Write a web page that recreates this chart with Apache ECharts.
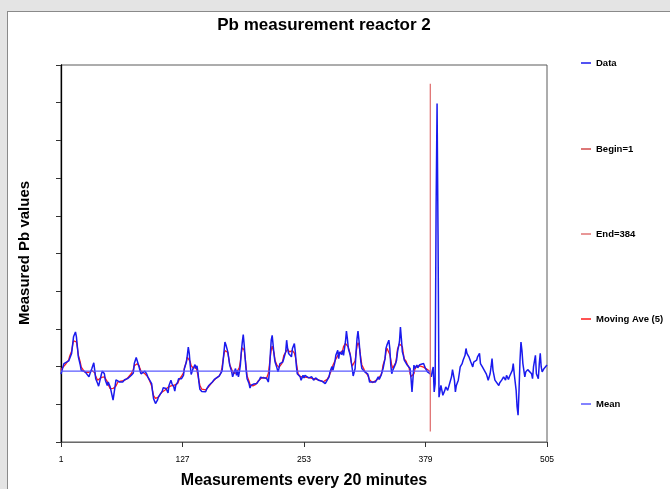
<!DOCTYPE html>
<html>
<head>
<meta charset="utf-8">
<script src="https://cdn.jsdelivr.net/npm/echarts@6/dist/echarts.min.js"></script>
<style>
  html, body { margin:0; padding:0; background:#e4e4e4; width:670px; height:489px; overflow:hidden; }
  #panel { position:absolute; left:7px; top:11px; width:663px; height:478px; background:#fff; border-top:1px solid #8a8a8a; border-left:1px solid #8a8a8a; }
  #c { position:absolute; left:0; top:0; width:670px; height:489px; }
</style>
</head>
<body>
<div id="panel"></div>
<div id="c"></div>
<script>
// ---- data ----
const chartTitle = 'Pb measurement reactor 2';
const xTitle = 'Measurements every 20 minutes';
const yTitle = 'Measured Pb values';
const xTickValues = [1, 127, 253, 379, 505];
const beginIdx = 1;
const endIdx = 384;
const meanValue = 1.88;
const markerRange = [0.28, 9.5];
const legendNames = ['Data', 'Begin=1', 'End=384', 'Moving Ave (5)', 'Mean'];

// [measurement index, Pb value]
const pbSeries = [
 [1,1.80],[2,1.81],[4,2.08],[6,2.12],[9,2.15],[10,2.19],[12,2.35],[13,2.57],[14,2.79],[16,2.92],[17,2.79],[18,2.52],[19,2.26],[21,2.04],[22,1.90],[24,1.86],[26,1.86],[28,1.90],[30,1.73],[31,1.81],[33,1.95],[35,2.10],[36,1.90],[37,1.68],[39,1.55],[40,1.48],[41,1.59],[43,1.81],[44,1.88],[46,1.81],[47,1.64],[49,1.50],[50,1.59],[52,1.46],[54,1.42],[55,1.11],[57,1.46],[58,1.65],[60,1.62],[62,1.59],[64,1.64],[65,1.59],[67,1.65],[69,1.64],[70,1.68],[72,1.73],[74,1.77],[76,1.83],[77,2.08],[79,2.24],[80,2.19],[82,1.99],[83,1.88],[84,1.81],[86,1.83],[88,1.88],[90,1.80],[91,1.73],[93,1.68],[95,1.55],[96,1.33],[97,1.15],[99,1.02],[101,1.11],[102,1.19],[104,1.27],[106,1.35],[107,1.44],[109,1.39],[110,1.42],[112,1.30],[113,1.50],[115,1.64],[116,1.55],[118,1.46],[119,1.35],[120,1.50],[122,1.59],[123,1.68],[124,1.64],
 [126,1.68],[128,1.77],[129,1.95],[131,2.12],[132,2.30],[133,2.52],[134,2.35],[135,2.04],[136,1.79],[138,1.95],[139,1.99],[140,2.05],[141,1.95],[142,2.02],[143,1.86],[144,1.59],[145,1.40],[147,1.34],[149,1.34],[151,1.33],[152,1.40],[154,1.49],[156,1.52],[158,1.59],[160,1.66],[162,1.68],[165,1.75],[167,1.79],[168,1.88],[169,2.12],[170,2.39],[171,2.65],[172,2.58],[174,2.39],[175,2.21],[176,2.04],[178,1.86],[179,1.73],[180,1.81],[182,1.95],[183,1.77],[184,1.90],[185,1.73],[186,1.86],[187,2.04],[188,2.39],[189,2.65],[190,2.85],[191,2.57],[192,2.21],[193,1.90],[194,1.68],[196,1.55],[197,1.43],[198,1.50],[200,1.47],[201,1.54],[203,1.50],[204,1.55],[205,1.59],[207,1.66],[208,1.72],[209,1.73],[211,1.70],[212,1.73],[214,1.70],[215,1.68],[216,1.59],[217,1.81],[218,2.30],[219,2.70],[220,2.83],[221,2.57],[222,2.30],[223,2.12],[225,1.96],[226,1.86],[227,1.95],[228,2.08],[230,2.04],[231,2.12],[232,2.21],[234,2.39],[235,2.70],[236,2.48],[237,2.35],[238,2.39],[240,2.26],[241,2.48],[243,2.61],[244,2.39],[245,2.04],[246,1.81],[247,1.77],[249,1.73],[250,1.64],
 [252,1.77],[253,1.70],[254,1.77],[256,1.73],[258,1.70],[260,1.66],[261,1.73],[263,1.64],[265,1.70],[266,1.66],[268,1.64],[270,1.66],[272,1.61],[273,1.58],[275,1.55],[277,1.59],[279,1.73],[280,1.86],[282,2.00],[283,1.90],[285,2.12],[286,2.30],[288,2.43],[289,2.21],[290,2.39],[292,2.32],[293,2.43],[294,2.30],[296,2.66],[297,2.94],[298,2.74],[299,2.48],[301,2.30],[302,2.12],[303,1.95],[304,1.75],[306,1.95],[307,2.39],[308,2.74],[309,2.94],[310,2.70],[311,2.39],[312,2.12],[313,1.95],[315,1.90],[316,1.86],[317,1.88],[319,1.81],[320,1.73],[321,1.59],[323,1.55],[324,1.59],[326,1.55],[327,1.59],[328,1.64],[330,1.73],[331,1.66],[333,1.77],[334,1.81],[335,1.95],[337,2.21],[338,2.48],[339,2.57],[341,2.70],[342,2.48],[343,2.04],[344,1.81],[345,1.90],[346,1.95],[348,2.08],[349,2.17],[350,2.39],[352,2.66],[353,3.05],[354,2.74],[355,2.39],[356,2.30],[357,2.17],[359,2.12],[360,2.04],[362,2.05],[363,1.95],[364,1.68],[365,1.33],[366,1.68],[367,2.04],[368,1.95],[370,2.04],[371,1.97],[373,2.05],[374,2.00],[375,2.04],
 [377,2.08],[379,1.95],[381,1.86],[383,1.90],[384,1.81],[385,1.73],[386,1.88],[387,1.99],[388,1.33],[389,1.55],[390,6.24],[391,8.98],[392,5.49],[393,1.19],[395,1.50],[396,1.37],[397,1.24],[399,1.37],[400,1.46],[402,1.37],[403,1.42],[404,1.33],[406,1.73],[407,1.92],[409,1.64],[410,1.33],[411,1.50],[413,1.64],[414,1.81],[415,1.99],[417,2.08],[418,2.17],[420,2.30],[421,2.48],[422,2.35],[424,2.26],[425,2.30],[426,2.12],[428,1.99],[429,2.12],[431,2.08],[432,2.17],[433,2.26],[435,2.35],[436,2.08],[438,1.99],[439,1.95],[440,1.90],[442,1.81],[443,1.73],[444,1.64],[446,1.81],[447,1.99],[448,2.21],[449,1.90],[451,1.64],[452,1.68],[453,1.59],[455,1.50],[456,1.57],[458,1.64],[459,1.59],[460,1.73],[462,1.64],[463,1.77],[465,1.66],[466,1.73],[467,1.68],[469,1.90],[470,2.08],[471,1.81],[473,1.37],[474,0.93],[475,0.71],[476,1.37],[477,2.17],[478,2.65],[479,2.43],[480,2.08],[481,1.90],[482,1.73],[483,1.86],[485,1.92],[486,1.95],[487,1.90],[489,1.81],[490,1.68],[491,1.99],[493,2.30],[494,1.81],[496,1.68],[497,2.08],[498,2.35],[499,1.99],[500,1.86],[502,1.95],[503,1.90],[505,2.04]
];

// ---- derived series ----
const inRange = pbSeries.filter(p => p[0] >= beginIdx && p[0] <= endIdx);
const movingAve = inRange.map((p, i) => {
  const lo = Math.max(0, i - 2), hi = Math.min(inRange.length - 1, i + 2);
  let s = 0; for (let k = lo; k <= hi; k++) s += inRange[k][1];
  return [p[0], +(s / (hi - lo + 1)).toFixed(3)];
});

const colors = { data:'#1a1aee', begin:'#d24a4a', end:'#e07474', ma:'#ff1a1a', mean:'#5a5aff' };
const legendColors = [colors.data, colors.begin, colors.end, colors.ma, colors.mean];
const FONT = '"Liberation Sans", Arial, sans-serif';
const legendTops = [64, 150, 235, 320, 405];

const chart = echarts.init(document.getElementById('c'));
chart.setOption({
  animation: false,
  backgroundColor: 'transparent',
  grid: { left: 61, top: 65, right: 123, bottom: 47, show: true, borderColor: '#5a5a5a', borderWidth: 1 },
  xAxis: {
    type: 'value', min: 1, max: 505,
    axisLine: { show: true, lineStyle: { color: '#6a6a6a', width: 1.2 } },
    axisTick: { show: true, customValues: xTickValues, length: 5, lineStyle: { color: '#333' } },
    axisLabel: { customValues: xTickValues, fontSize: 8.5, color: '#000', margin: 13, fontFamily: FONT },
    splitLine: { show: false }
  },
  yAxis: {
    type: 'value', min: 0, max: 10, interval: 1,
    axisLine: { show: true, lineStyle: { color: '#000', width: 1.3 } },
    axisTick: { show: true, length: 5, lineStyle: { color: '#333' } },
    axisLabel: { show: false },
    splitLine: { show: false }
  },
  legend: legendNames.map((n, i) => ({
    data: [{ name: n, itemStyle: { color: legendColors[i], opacity: 1 } }],
    left: 581, top: legendTops[i] - 6, padding: 0,
    icon: 'rect', itemWidth: 10, itemHeight: 1.5, itemGap: 0, selectedMode: false,
    textStyle: { fontSize: 9.5, fontWeight: 'bold', color: '#000', fontFamily: FONT }
  })),
  graphic: [
    { type: 'text', x: 324, y: 25, style: { text: chartTitle, fontSize: 17, fontWeight: 'bold', fontFamily: FONT, fill: '#000', textAlign: 'center', textVerticalAlign: 'middle' } },
    { type: 'text', x: 304, y: 481, style: { text: xTitle, fontSize: 16, fontWeight: 'bold', fontFamily: FONT, fill: '#000', textAlign: 'center', textVerticalAlign: 'middle' } },
    { type: 'text', x: 25, y: 253, rotation: Math.PI / 2, style: { text: yTitle, fontSize: 15, fontWeight: 'bold', fontFamily: FONT, fill: '#000', textAlign: 'center', textVerticalAlign: 'middle' } }
  ],
  series: [
    { name: 'Moving Ave (5)', type: 'line', data: movingAve, color: colors.ma, showSymbol: false, symbol: 'none', lineStyle: { width: 1.3, color: colors.ma }, z: 2 },
    { name: 'Data', type: 'line', data: pbSeries, color: colors.data, showSymbol: false, symbol: 'none', lineStyle: { width: 1.5, color: colors.data }, z: 3 },
    { name: 'Mean', type: 'line', data: [[beginIdx, meanValue], [endIdx, meanValue]], color: colors.mean, showSymbol: false, symbol: 'none', lineStyle: { width: 1.4, color: colors.mean }, z: 4 },
    { name: 'Begin=1', type: 'line', data: [[beginIdx, markerRange[0]], [beginIdx, markerRange[1]]], color: colors.begin, showSymbol: false, symbol: 'none', lineStyle: { width: 1.3, color: colors.begin, opacity: 0 }, z: 1 },
    { name: 'End=384', type: 'line', data: [[endIdx, markerRange[0]], [endIdx, markerRange[1]]], color: colors.end, showSymbol: false, symbol: 'none', lineStyle: { width: 1.3, color: colors.end }, z: 5 }
  ]
});
</script>
</body>
</html>
